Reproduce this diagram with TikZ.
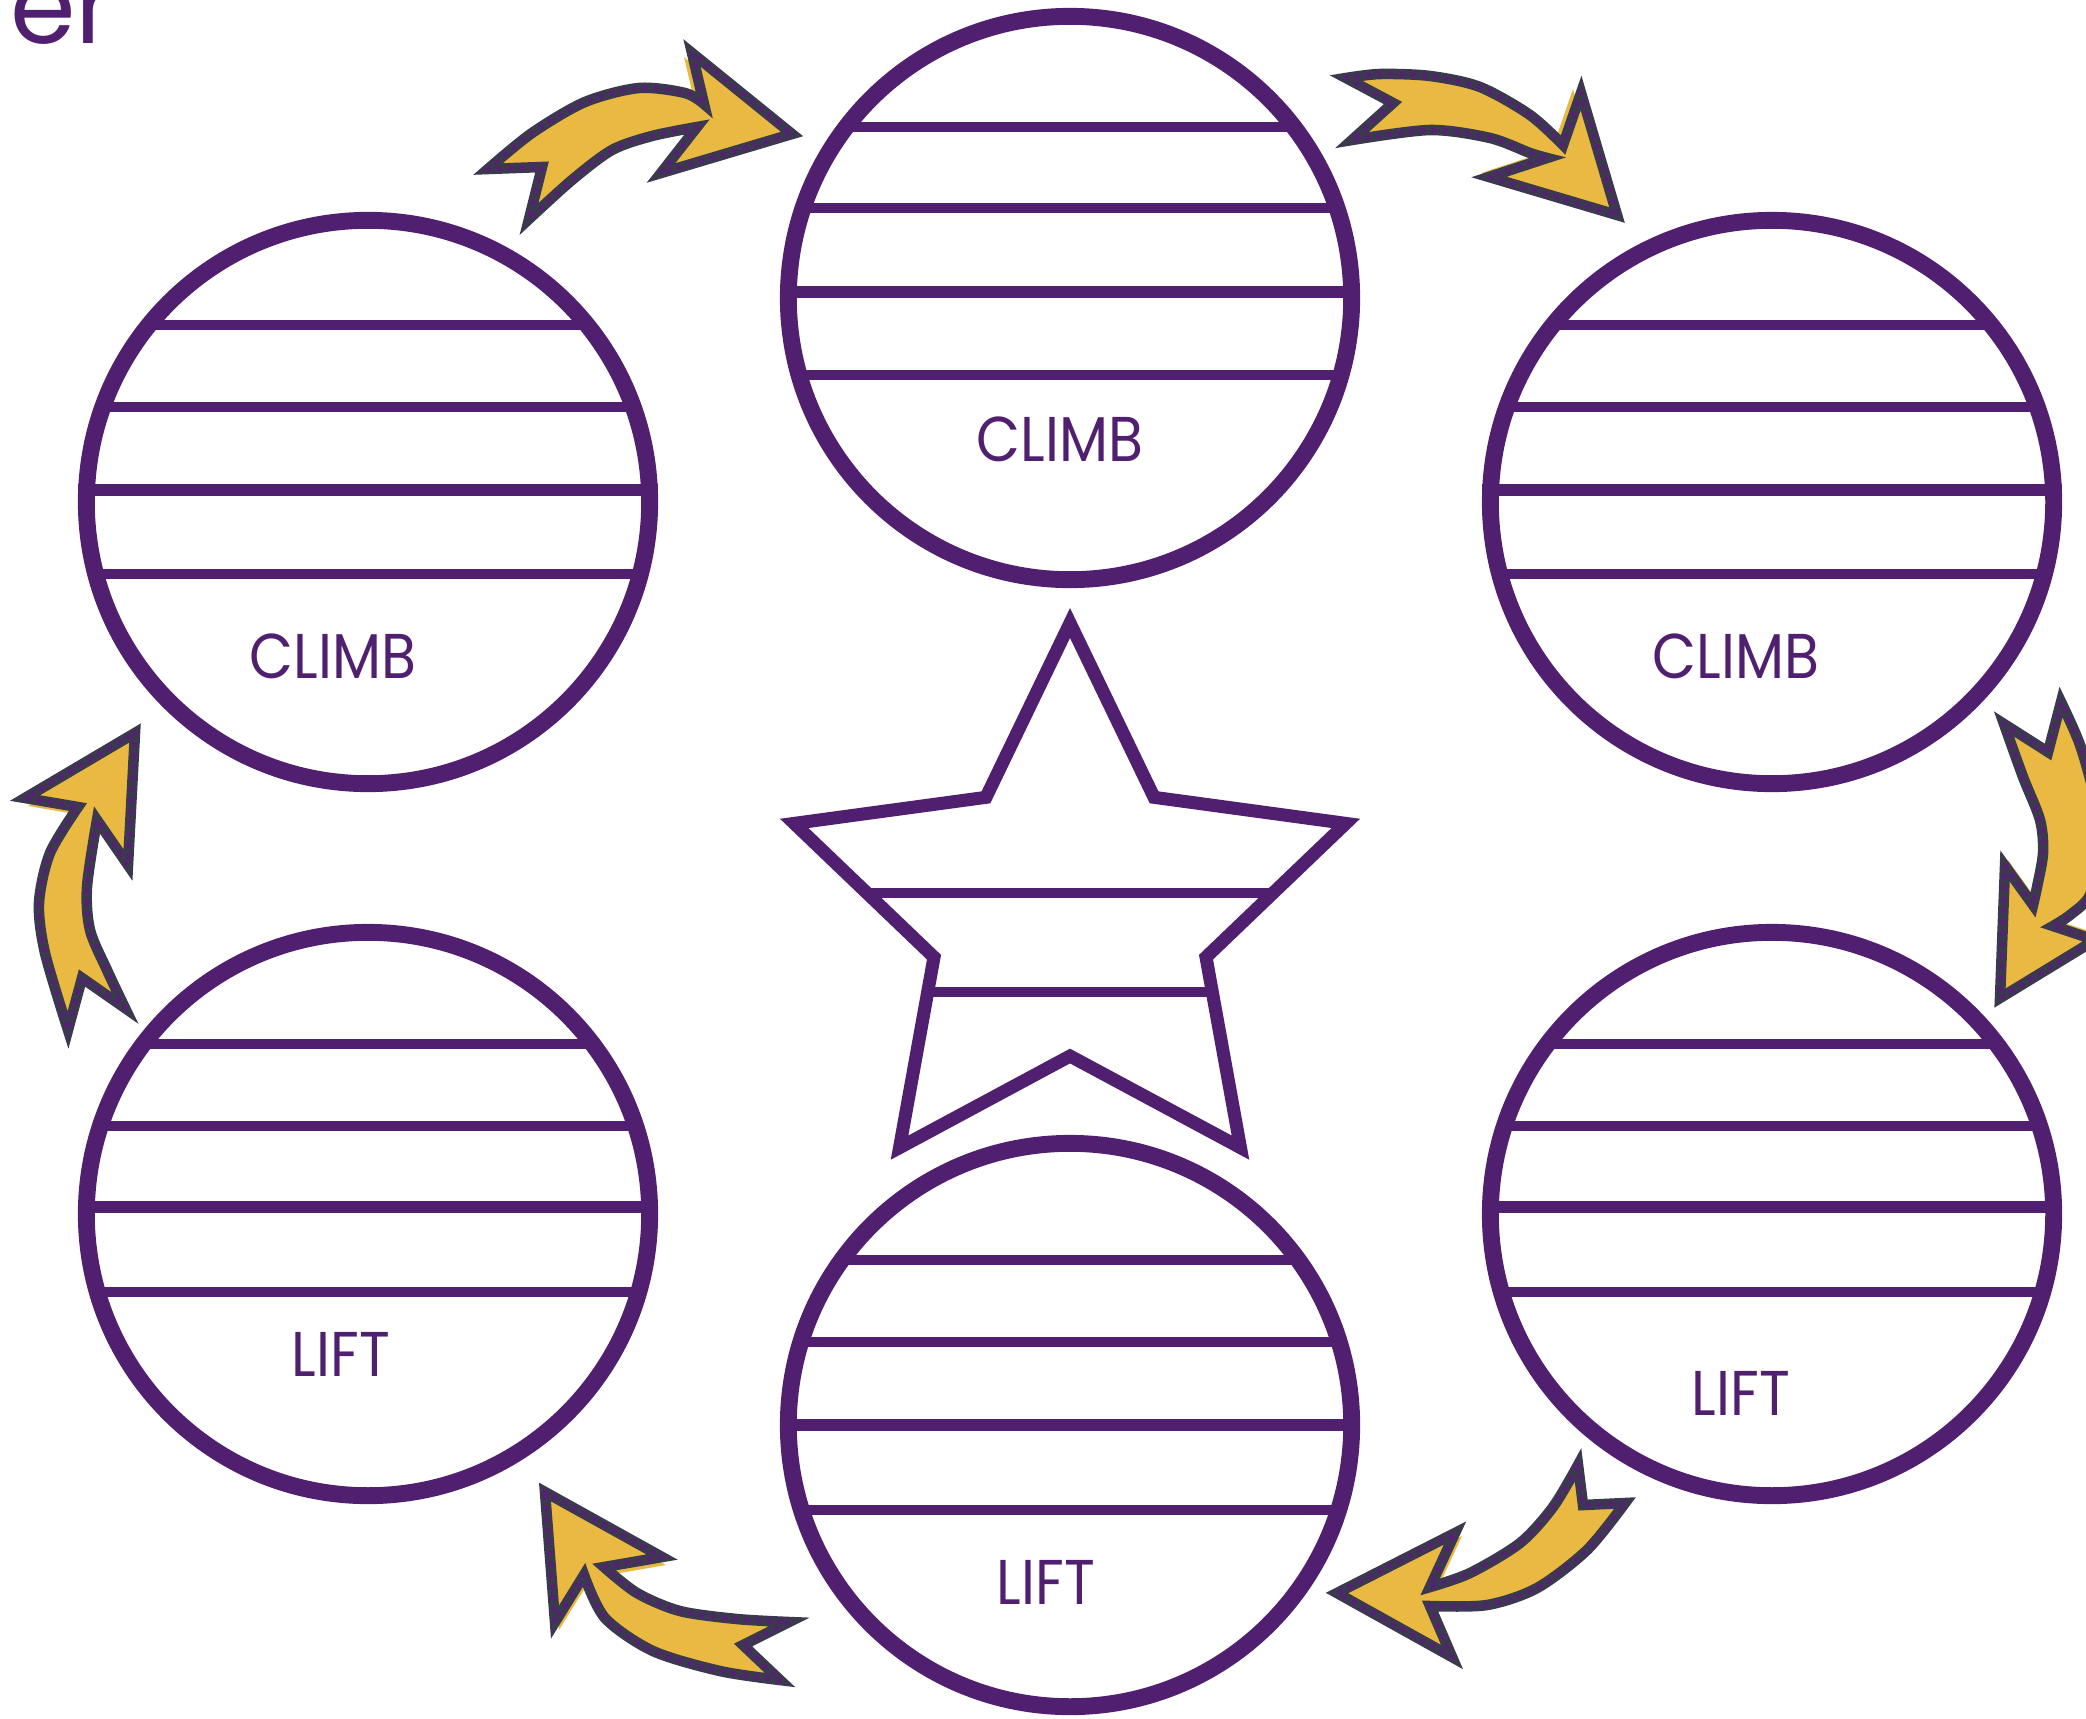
\documentclass[tikz,border=0pt]{standalone}
\usepackage{fontspec}
\setmainfont{Poppins}
\newfontfamily\labelfont[FakeStretch=0.9]{Poppins}
\usetikzlibrary{arrows}

\newcommand{\blockarrow}[3]{%
	\fill[color=arrowyellow,shift={#3}] #2;
	\filldraw[arrowbody] #1;
	\draw[arrowdots] #1;
}

\begin{document}
\begin{tikzpicture}[x=0.01cm,y=-0.01cm,
	ringline/.style={draw=purpleline,line width=4.8pt},
	rungline/.style={draw=purpleline,line width=2.85pt},
	starline/.style={draw=purpleline,line width=3.7pt,line join=miter},
	arrowbody/.style={fill=arrowyellow,draw=arrowdark,line width=3pt,line join=miter},
	arrowdots/.style={draw=dotpurple,line width=1.5pt,line cap=round,dash pattern=on 0pt off 3.2pt},
	labeltext/.style={text=purpleline,font=\labelfont\fontsize{18}{20}\selectfont,inner sep=0pt}]

\definecolor{purpleline}{RGB}{80,31,112}
\definecolor{arrowyellow}{RGB}{233,185,66}
\definecolor{arrowdark}{RGB}{60,56,80}
\definecolor{dotpurple}{RGB}{88,30,120}

\useasboundingbox (0,0) rectangle (2086,1718);

\node[text=purpleline,font=\fontsize{30}{30}\selectfont,inner sep=0pt,anchor=base east] (corner) at (116,44) {er};

% circles with rungs
\foreach \cx/\cy/\la/\lb/\lc/\ld/\nm/\txt/\lx/\ly in {
	1070/298/-171/-90/-6/77/climbtop/CLIMB/1060/439,
	368/502/-177/-95/-12/72/climbleft/CLIMB/333/656,
	1772/502/-177/-95/-12/72/climbright/CLIMB/1736/656,
	368/1214/-170/-88/-7/78/liftleft/LIFT/341/1354,
	1772/1214/-170/-88/-7/78/liftright/LIFT/1741/1393,
	1070/1425/-165/-83/0/85/liftbottom/LIFT/1046/1582}{
	\begin{scope}
	\clip (\cx,\cy) circle[radius=2.815cm];
	\foreach \d in {\la,\lb,\ld}{
		\draw[rungline] ({\cx-300},{\cy+(\d)}) -- ({\cx+300},{\cy+(\d)});
	}
	\end{scope}
	\draw[rungline,line width=3.4pt] ({\cx-290},{\cy+(\lc)}) -- ({\cx+290},{\cy+(\lc)});
	\draw[ringline] (\cx,\cy) circle[radius=2.815cm];
	\node[labeltext] (\nm) at (\lx,\ly) {\txt};
}

% star
\begin{scope}[shift={(1070,913)}]
\begin{scope}
\clip (-90:290) \foreach \k in {0,...,4}{ -- ({-54+72*\k}:143) -- ({-18+72*\k}:290)} -- cycle;
\draw[rungline] (-320,-20) -- (320,-20);
\draw[rungline] (-320,79) -- (320,79);
\end{scope}
\draw[starline] (-90:290) \foreach \k in {0,...,4}{ -- ({-54+72*\k}:143) -- ({-18+72*\k}:290)} -- cycle;
\end{scope}

% arrows
\blockarrow{(488,169) -- (542,167) -- (529,219) -- plot[smooth] coordinates {(529,219) (572,180) (612,150) (652,136) (697,127)} -- (661,173) -- (792,134) -- (692,53) -- (704,104) -- plot[smooth] coordinates {(704,104) (685,93) (639,88) (585,102) (532,133) (488,169)} -- cycle}
	{(697,127) -- (661,173) -- (792,134) -- (692,53) -- (704,104) -- cycle}{(-8,4)}

\blockarrow{(1346,78) -- (1393,103) -- (1352,140) -- plot[smooth] coordinates {(1352,140) (1430,130) (1490,138) (1530,153) (1547,158)} -- (1489,177) -- (1617,215) -- (1581,93) -- (1563,145) -- plot[smooth] coordinates {(1563,145) (1530,115) (1480,87) (1430,76) (1380,74) (1346,78)} -- cycle}
	{(1547,158) -- (1489,177) -- (1617,215) -- (1581,93) -- (1563,145) -- cycle}{(-8,-4)}

\blockarrow{(2004,724) -- (2048,752) -- (2061,702) -- plot[smooth] coordinates {(2061,702) (2080,745) (2095,800) (2100,850) (2090,895) (2070,915) (2053,926)} -- (2095,940) -- (2000,998) -- (2005,866) -- (2033,905) -- plot[smooth] coordinates {(2033,905) (2037,887) (2043,853) (2040,820) (2023,777) (2004,724)} -- cycle}
	{(2053,926) -- (2095,940) -- (2000,998) -- (2005,866) -- (2033,905) -- cycle}{(3,-6)}

\blockarrow{(1578,1465) -- (1583,1505) -- (1625,1503) -- plot[smooth] coordinates {(1625,1503) (1587,1550) (1537,1588) (1487,1605) (1430,1606)} -- (1452,1657) -- (1337,1593) -- (1455,1533) -- (1430,1587) -- plot[smooth] coordinates {(1430,1587) (1470,1573) (1520,1543) (1553,1507) (1578,1465)} -- cycle}
	{(1430,1606) -- (1452,1657) -- (1337,1593) -- (1455,1533) -- (1430,1587) -- cycle}{(7,3)}

\blockarrow{(545,1492) -- (662,1557) -- (604,1567) -- plot[smooth] coordinates {(604,1567) (637,1593) (680,1611) (737,1619) (789,1622)} -- (743,1645) -- (780,1680) -- plot[smooth] coordinates {(780,1680) (720,1671) (653,1651) (605,1618) (584,1575)} -- (555,1622) -- cycle}
	{(545,1492) -- (662,1557) -- (604,1567) -- (584,1575) -- (555,1622) -- cycle}{(4,8)}

\blockarrow{(135,733) -- (128,865) -- (97,820) -- plot[smooth] coordinates {(97,820) (87,887) (90,930) (107,970) (125,1008)} -- (82,978) -- (68,1030) -- plot[smooth] coordinates {(68,1030) (45,953) (39,903) (50,853) (78,807)} -- (25,798) -- cycle}
	{(135,733) -- (128,865) -- (97,820) -- (78,807) -- (25,798) -- cycle}{(3,8)}

\end{tikzpicture}
\end{document}
